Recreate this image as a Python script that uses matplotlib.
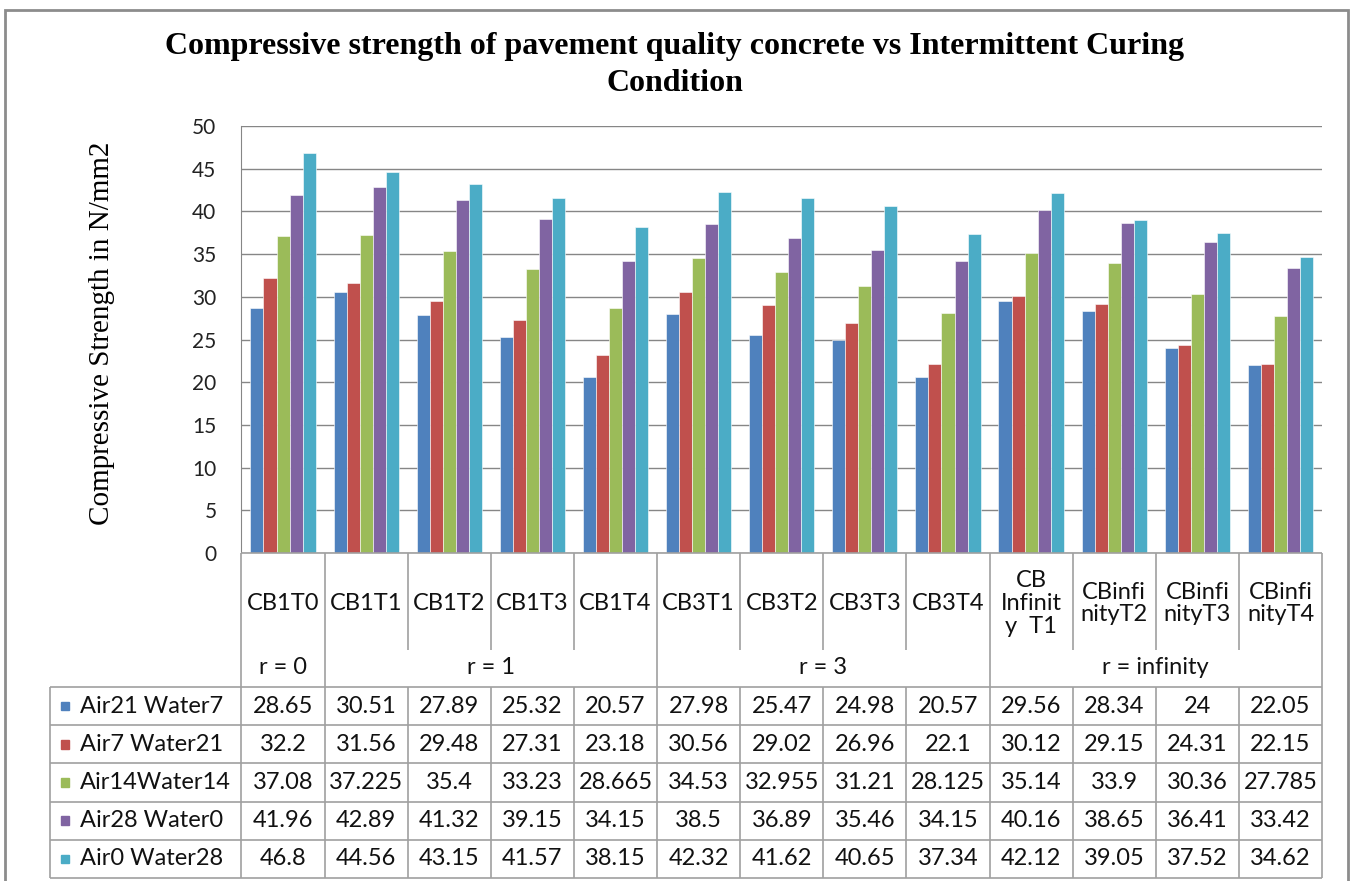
import matplotlib
matplotlib.use("Agg")
import matplotlib.pyplot as plt
from matplotlib.patches import Rectangle

categories = ["CB1T0", "CB1T1", "CB1T2", "CB1T3", "CB1T4",
              "CB3T1", "CB3T2", "CB3T3", "CB3T4",
              "CB\nInfinit\ny  T1", "CBinfi\nnityT2", "CBinfi\nnityT3", "CBinfi\nnityT4"]
groups = ["r = 0", "r = 1", "r = 3", "r = infinity"]
group_sizes = [1, 4, 4, 4]
series_names = ["Air21 Water7", "Air7 Water21", "Air14Water14", "Air28 Water0", "Air0 Water28"]
air21_water7 = [28.65, 30.51, 27.89, 25.32, 20.57, 27.98, 25.47, 24.98, 20.57, 29.56, 28.34, 24, 22.05]
air7_water21 = [32.2, 31.56, 29.48, 27.31, 23.18, 30.56, 29.02, 26.96, 22.1, 30.12, 29.15, 24.31, 22.15]
air14_water14 = [37.08, 37.225, 35.4, 33.23, 28.665, 34.53, 32.955, 31.21, 28.125, 35.14, 33.9, 30.36, 27.785]
air28_water0 = [41.96, 42.89, 41.32, 39.15, 34.15, 38.5, 36.89, 35.46, 34.15, 40.16, 38.65, 36.41, 33.42]
air0_water28 = [46.8, 44.56, 43.15, 41.57, 38.15, 42.32, 41.62, 40.65, 37.34, 42.12, 39.05, 37.52, 34.62]
series = [air21_water7, air7_water21, air14_water14, air28_water0, air0_water28]
colors = ["#4F81BD", "#C0504D", "#9BBB59", "#8064A2", "#4BACC6"]
yticks = [0, 5, 10, 15, 20, 25, 30, 35, 40, 45, 50]

W, H = 1350, 881
GRID = "#868686"
LINE = "#A0A0A0"
SANS = "Lato"
SERIF = "Liberation Serif"

fig = plt.figure(figsize=(W / 100, H / 100), dpi=100)

# outer chart border
fig.patches.append(Rectangle((4.5 / W, -0.01), (1348 - 4.5) / W, 1 - 10 / H + 0.01,
                             transform=fig.transFigure, fill=False,
                             edgecolor="#8C8C8C", lw=2))

fig.text(0.5, 1 - 65 / H,
         "Compressive strength of pavement quality concrete vs Intermittent Curing\nCondition",
         ha="center", va="center", fontsize=23, fontweight="bold", family=SERIF,
         linespacing=1.35)

# plot area in pixels
px_left, px_right, px_top, px_bottom = 241.5, 1322, 126, 553
ax = fig.add_axes([px_left / W, 1 - px_bottom / H,
                   (px_right - px_left) / W, (px_bottom - px_top) / H])
n = len(categories)
bw = 0.157
for k, (vals, c) in enumerate(zip(series, colors)):
    xs = [i + (k - 2) * bw for i in range(n)]
    ax.bar(xs, vals, width=bw, color=c, edgecolor="white", linewidth=0.4, zorder=3)
ax.set_xlim(-0.5, n - 0.5)
ax.set_ylim(0, 50)
ax.set_yticks(yticks)
ax.set_yticklabels([str(t) for t in yticks], family=SANS, fontsize=15, color="#222222")
ax.set_xticks([])
ax.tick_params(axis="y", length=0, pad=18)
ax.grid(axis="y", color=GRID, lw=1, zorder=0)
for s in ["top", "right", "bottom"]:
    ax.spines[s].set_visible(False)
ax.spines["left"].set_color(GRID)

fig.text(102 / W, 1 - 333 / H, "Compressive Strength in N/mm2", rotation=90,
         ha="center", va="center", fontsize=21, family=SERIF)

# data table underneath, same category scale as the bars
tb_left, tb_bottom = 50.4, 878
cat_w = (px_right - px_left) / n
x_left = -0.5 - (px_left - tb_left) / cat_w
CAT_H, GRP_H = 97, 37
ROW_H = (tb_bottom - px_bottom - CAT_H - GRP_H) / len(series)
tax = fig.add_axes([tb_left / W, 1 - tb_bottom / H,
                    (px_right - tb_left) / W, (tb_bottom - px_bottom) / H])
tax.set_xlim(x_left, n - 0.5)
tax.set_ylim(tb_bottom - px_bottom, 0)
tax.axis("off")

head_bottom = CAT_H + GRP_H
total = tb_bottom - px_bottom
lk = dict(color=LINE, lw=1.2, solid_capstyle="butt", clip_on=False)

# top line of the category area
tax.plot([-0.5, n - 0.5], [0, 0], **lk)
# vertical lines
group_edges = [-0.5]
for s in group_sizes:
    group_edges.append(group_edges[-1] + s)
for i in range(n + 1):
    xv = i - 0.5
    if xv in group_edges:
        tax.plot([xv, xv], [0, total], **lk)
    else:
        tax.plot([xv, xv], [0, CAT_H], **lk)
        tax.plot([xv, xv], [head_bottom, total], **lk)
tax.plot([x_left, x_left], [head_bottom, total], **lk)
# horizontal lines of the data rows
for r in range(len(series) + 1):
    yv = head_bottom + r * ROW_H
    tax.plot([x_left, n - 0.5], [yv, yv], **lk)

txt = dict(family=SANS, fontsize=17, color="#111111", ha="center", va="center")
for i, c in enumerate(categories):
    tax.text(i, CAT_H / 2 + 2, c, linespacing=1.1, **txt)
for g, e0, e1 in zip(groups, group_edges[:-1], group_edges[1:]):
    tax.text((e0 + e1) / 2, CAT_H + GRP_H / 2 - 1, g, **txt)

key_w = 8.5 / cat_w
for r, (name, vals, c) in enumerate(zip(series_names, series, colors)):
    yc = head_bottom + (r + 0.5) * ROW_H
    tax.add_patch(Rectangle((x_left + 10.2 / cat_w, yc - 4.25), key_w, 8.5,
                            color=c, clip_on=False))
    tax.text(x_left + 29.6 / cat_w, yc, name, family=SANS, fontsize=17,
             color="#111111", ha="left", va="center")
    for i, v in enumerate(vals):
        tax.text(i, yc, f"{v:g}", **txt)

fig.savefig("out.png", dpi=100, facecolor="white")
